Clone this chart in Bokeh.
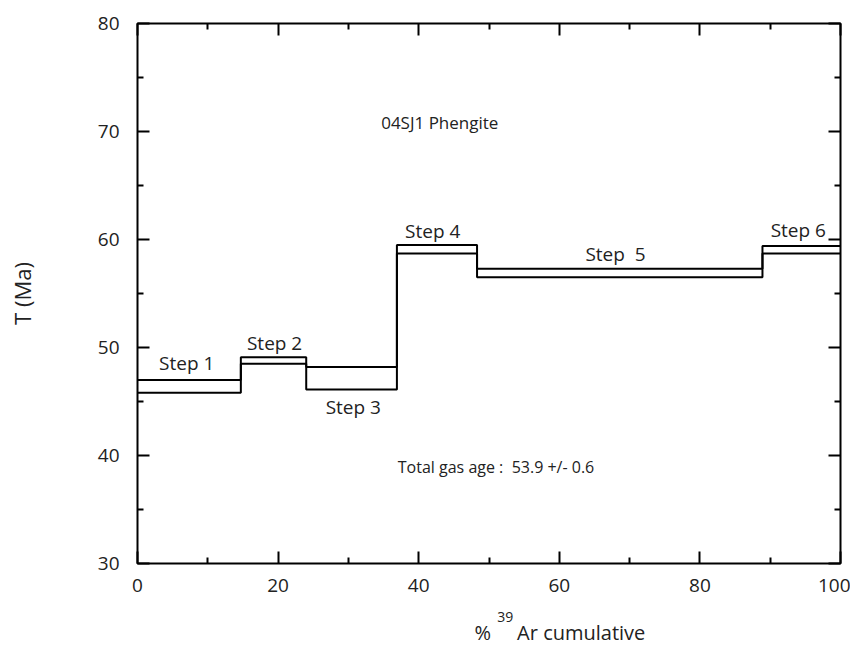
from bokeh.plotting import figure
from bokeh.layouts import column
from bokeh.models import Range1d, LinearAxis, Label, FixedTicker, CustomJSTickFormatter
from bokeh.core.properties import value
from bokeh.embed import file_html
from bokeh.resources import INLINE

# ---- data ----
step_edges = [0, 14.7, 24.0, 36.9, 48.3, 88.9, 100]          # % 39Ar cumulative
age_upper = [47.0, 49.1, 48.2, 59.5, 57.3, 59.4]               # Ma (upper error)
age_lower = [45.8, 48.5, 46.1, 58.7, 56.5, 58.7]               # Ma (lower error)
step_names = ["Step 1", "Step 2", "Step 3", "Step 4", "Step\u00a0\u00a05", "Step 6"]
x_major = [0, 20, 40, 60, 80, 100]
x_minor = [10, 30, 50, 70, 90]
y_major = [30, 40, 50, 60, 70, 80]
y_minor = [35, 45, 55, 65, 75]
sample_name = "04SJ1 Phengite"
total_gas = "Total gas age :\u00a0\u00a053.9 +/- 0.6"

FONT = "Open Sans"
TXT = "#222222"

xr = Range1d(0, 100)
p = figure(width=850, height=605, output_backend="svg", toolbar_location=None,
           x_range=xr, y_range=Range1d(30, 80),
           min_border_left=137, min_border_right=10, min_border_top=23, min_border_bottom=42)
p.xgrid.visible = False
p.ygrid.visible = False
p.outline_line_color = "black"
p.outline_line_width = 2
p.outline_line_alpha = 1
p.background_fill_color = "white"
p.border_fill_color = "white"

def style_axis(ax, ticks, minor, labels=True):
    ax.ticker = FixedTicker(ticks=ticks, minor_ticks=minor)
    ax.axis_line_color = None
    ax.major_tick_in = 12
    ax.major_tick_out = 0
    ax.minor_tick_in = 6
    ax.minor_tick_out = 0
    ax.major_tick_line_width = 2
    ax.minor_tick_line_width = 2
    ax.major_tick_line_color = "black"
    ax.minor_tick_line_color = "black"
    if labels:
        ax.major_label_text_font = FONT
        ax.major_label_text_font_size = "19px"
        ax.major_label_text_color = TXT
    else:
        ax.formatter = CustomJSTickFormatter(code="return ''")
        ax.major_label_standoff = 0

style_axis(p.xaxis[0], x_major, x_minor)
style_axis(p.yaxis[0], y_major, y_minor)
p.xaxis[0].major_label_standoff = 15
p.yaxis[0].major_label_standoff = 18
p.yaxis[0].axis_label = "T (Ma)"
p.yaxis[0].axis_label_text_font = FONT
p.yaxis[0].axis_label_text_font_size = "22px"
p.yaxis[0].axis_label_text_font_style = "normal"
p.yaxis[0].axis_label_text_color = TXT
p.yaxis[0].axis_label_standoff = 58

top_ax = LinearAxis()
right_ax = LinearAxis()
style_axis(top_ax, x_major, x_minor, labels=False)
style_axis(right_ax, y_major, y_minor, labels=False)
p.add_layout(top_ax, "above")
p.add_layout(right_ax, "right")

# step spectrum: upper and lower lines
p.step(x=step_edges, y=age_upper + [age_upper[-1]], mode="after", line_color="black", line_width=2)
p.step(x=step_edges, y=age_lower + [age_lower[-1]], mode="after", line_color="black", line_width=2)

# step labels
label_pos = [(7.0, 48.6), (19.5, 50.4), (30.7, 44.5), (42.0, 60.8), (68.0, 58.7), (94.0, 60.9)]
for name, (lx, ly) in zip(step_names, label_pos):
    p.add_layout(Label(x=lx, y=ly, text=name, text_align="center", text_baseline="middle",
                       text_font=FONT, text_font_size="19px", text_color=TXT))

p.add_layout(Label(x=43.0, y=70.8, text=sample_name, text_align="center", text_baseline="middle",
                   text_font=FONT, text_font_size="17px", text_color=TXT))
p.add_layout(Label(x=51.0, y=38.9, text=total_gas, text_align="center", text_baseline="middle",
                   text_font=FONT, text_font_size="16px", text_color=TXT))

# strip below the plot holding the x-axis title with its superscript
q = figure(width=850, height=44, output_backend="svg", toolbar_location=None,
           x_range=xr, y_range=Range1d(0, 44), x_axis_type=None, y_axis_type=None,
           min_border_left=137, min_border_right=10, min_border_top=0, min_border_bottom=0)
q.outline_line_color = None
q.background_fill_color = "white"
q.border_fill_color = "white"
q.xgrid.visible = False
q.ygrid.visible = False
q.text(x=[49.1], y=[17], text=["%"], text_align="center", text_baseline="middle",
       text_font=value(FONT), text_font_size="20px", text_color=TXT)
q.text(x=[52.3], y=[33], text=["39"], text_align="center", text_baseline="middle",
       text_font=value(FONT), text_font_size="14px", text_color=TXT)
q.text(x=[54.0], y=[17], text=["Ar cumulative"], text_align="left", text_baseline="middle",
       text_font=value(FONT), text_font_size="20px", text_color=TXT)

layout = column(p, q, spacing=0)
open("out.html", "w").write(file_html(layout, INLINE))
